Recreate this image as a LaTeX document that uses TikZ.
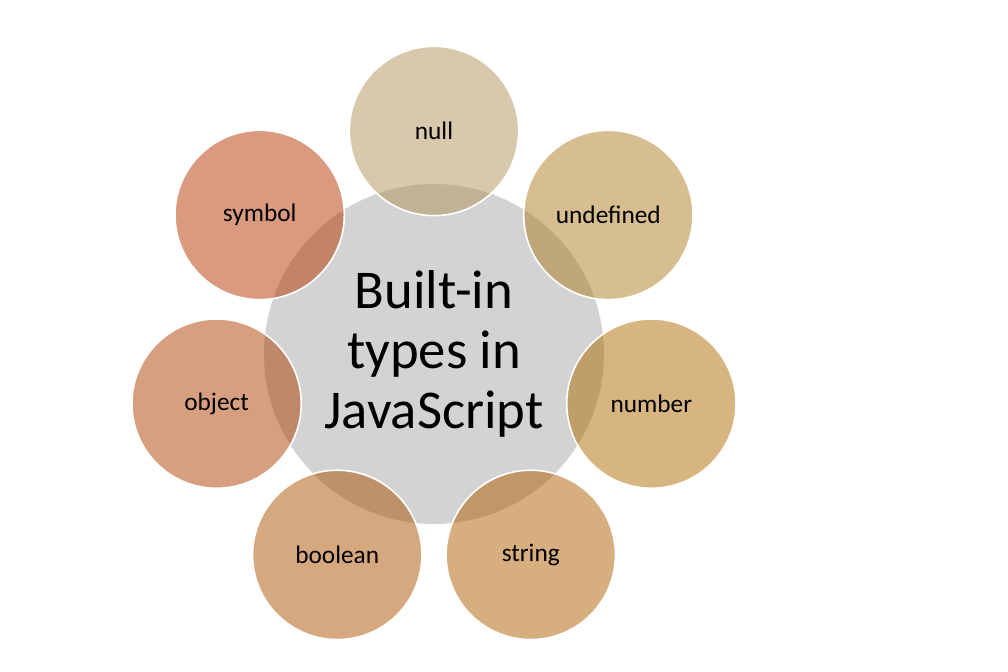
\documentclass[tikz,border=0pt]{standalone}
\usepackage{fontspec}
\setmainfont{Carlito}
\definecolor{hubgray}{RGB}{211,211,211}
\definecolor{nullfill}{RGB}{177,147,91}
\definecolor{undeffill}{RGB}{175,125,35}
\definecolor{numberfill}{RGB}{173,107,3}
\definecolor{stringfill}{RGB}{173,93,1}
\definecolor{boolfill}{RGB}{173,81,1}
\definecolor{objectfill}{RGB}{173,65,1}
\definecolor{symbolfill}{RGB}{179,53,1}
\begin{document}
\begin{tikzpicture}[x=0.75pt,y=0.75pt,
	hub/.style={circle,fill=hubgray,minimum size=255pt,inner sep=0pt,align=center,font=\fontsize{41}{45}\selectfont},
	petal/.style={circle,draw=white,line width=1.2pt,fill=#1,fill opacity=0.5,text opacity=1,minimum size=127pt,inner sep=0pt,font=\fontsize{19}{23}\selectfont}]
		\def\orbit{223}
		\def\gap{51.4286}
		\useasboundingbox (0,0) rectangle (1008,672);
		\node[hub] (hub) at (434,318) {Built-in\\types in\\JavaScript};
		\begin{scope}[shift={(hub.center)}]
		\node[petal=nullfill] (null) at (90:\orbit) {null};
		\node[petal=undeffill] (undefined) at (90-\gap:\orbit) {undefined};
		\node[petal=numberfill] (number) at (90-2*\gap:\orbit) {number};
		\node[petal=stringfill] (string) at (90-3*\gap:\orbit) {string};
		\node[petal=boolfill] (boolean) at (90-4*\gap:\orbit) {boolean};
		\node[petal=objectfill] (object) at (90-5*\gap:\orbit) {object};
		\node[petal=symbolfill] (symbol) at (90-6*\gap:\orbit) {symbol};
		\end{scope}
		\end{tikzpicture}
\end{document}
